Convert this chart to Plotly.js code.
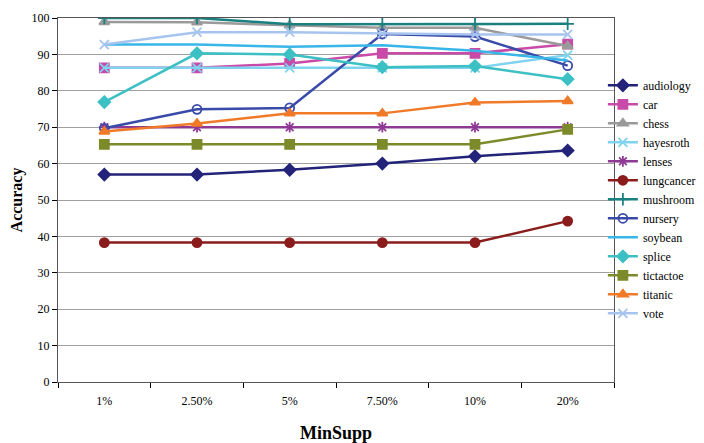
<!DOCTYPE html>
<html>
<head>
<meta charset="utf-8">
<script src="https://cdn.plot.ly/plotly-3.0.1.min.js"></script>
<style>html,body{margin:0;padding:0;background:#fff;}#chart{width:704px;height:443px;}</style>
</head>
<body>
<div id="chart"></div>
<script>
const categories = ["1%", "2.50%", "5%", "7.50%", "10%", "20%"];

const audiology  = [57.0, 57.0, 58.3, 60.0, 62.0, 63.6];
const car        = [86.3, 86.3, 87.5, 90.3, 90.3, 92.8];
const chess      = [98.9, 98.8, 98.0, 97.3, 97.3, 92.3];
const hayesroth  = [86.3, 86.3, 86.3, 86.3, 86.3, 89.8];
const lenses     = [70.0, 70.0, 70.0, 70.0, 70.0, 70.0];
const lungcancer = [38.3, 38.3, 38.3, 38.3, 38.3, 44.2];
const mushroom   = [100.0, 100.0, 98.3, 98.4, 98.4, 98.4];
const nursery    = [69.7, 74.9, 75.3, 95.6, 94.9, 86.9];
const soybean    = [92.7, 92.7, 92.1, 92.5, 91.0, 88.3];
const splice     = [76.9, 90.3, 90.0, 86.5, 86.8, 83.2];
const tictactoe  = [65.3, 65.3, 65.3, 65.3, 65.3, 69.4];
const titanic    = [68.8, 71.0, 73.8, 73.8, 76.8, 77.2];
const vote       = [92.7, 96.1, 96.1, 95.8, 95.5, 95.5];

const seriesNames = ["audiology","car","chess","hayesroth","lenses","lungcancer","mushroom","nursery","soybean","splice","tictactoe","titanic","vote"];
const seriesValues = [audiology,car,chess,hayesroth,lenses,lungcancer,mushroom,nursery,soybean,splice,tictactoe,titanic,vote];
const seriesColors = ["#23237a","#c94aa8","#9a9a9a","#7fd3ee","#8e3a95","#8b1c1c","#1a8080","#3a4aa8","#38b6e8","#3cc0c4","#7c8a2a","#f07a28","#a6c4ee"];
const seriesSymbols = ["diamond","square","triangle-up","x-thin-open","asterisk-open","circle","cross-thin-open","circle-open","circle","diamond","square","triangle-up","x-thin-open"];
const seriesShowMarker = [true,true,true,true,true,true,true,true,false,true,true,true,true];

const traces = seriesNames.map((n, i) => ({
  type: "scatter",
  mode: seriesShowMarker[i] ? "lines+markers" : "lines",
  name: n,
  x: categories,
  y: seriesValues[i],
  line: {color: seriesColors[i], width: 2.5},
  marker: {
    color: seriesColors[i],
    symbol: seriesSymbols[i],
    size: 9,
    line: {color: seriesColors[i], width: 1.8}
  }
}));

const layout = {
  width: 704, height: 443,
  margin: {l: 58, r: 90, t: 18, b: 61, autoexpand: false},
  paper_bgcolor: "#fff", plot_bgcolor: "#fff",
  font: {family: "Liberation Serif, Times New Roman, serif", size: 12, color: "#000"},
  showlegend: true,
  legend: {
    x: 0.98, xanchor: "left", y: 0.855, yanchor: "top",
    bgcolor: "rgba(0,0,0,0)", borderwidth: 0,
    font: {family: "Liberation Serif, serif", size: 12, color: "#000"},
    itemwidth: 30, tracegroupgap: 0
  },
  xaxis: {
    type: "category",
    range: [-0.5, 5.5],
    tickson: "boundaries",
    ticks: "outside", ticklen: 5, tickcolor: "#000",
    ticklabelstandoff: 8,
    showgrid: false, zeroline: false,
    showline: true, linecolor: "#555", linewidth: 1, mirror: true,
    tickfont: {family: "Liberation Serif, serif", size: 12},
    title: {text: "<b>MinSupp</b>", font: {family: "Liberation Serif, serif", size: 18}, standoff: 22}
  },
  yaxis: {
    range: [0, 100], dtick: 10,
    ticks: "outside", ticklen: 5, tickcolor: "#000",
    showgrid: true, gridcolor: "#a0a0a0", gridwidth: 1,
    zeroline: false,
    showline: true, linecolor: "#555", linewidth: 1, mirror: true,
    tickfont: {family: "Liberation Serif, serif", size: 12},
    title: {text: "<b>Accuracy</b>", font: {family: "Liberation Serif, serif", size: 16}, standoff: 4}
  }
};

Plotly.newPlot("chart", traces, layout, {displayModeBar: false, staticPlot: true});
</script>
</body>
</html>
